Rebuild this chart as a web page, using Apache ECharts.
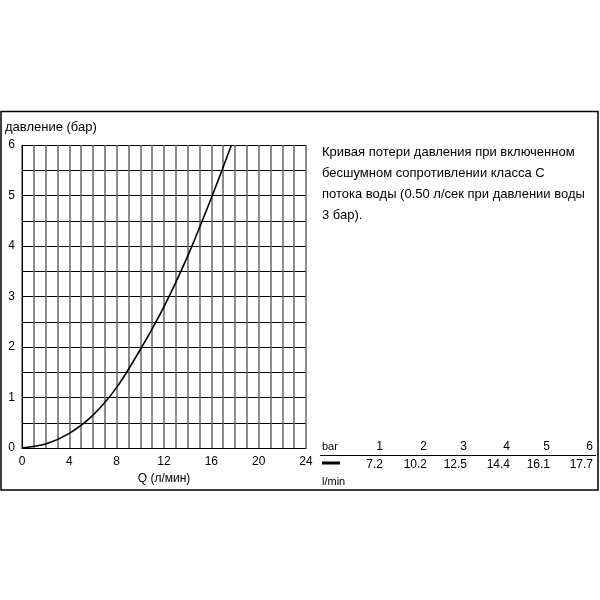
<!DOCTYPE html>
<html><head><meta charset="utf-8">
<script src="https://cdn.jsdelivr.net/npm/echarts@6/dist/echarts.min.js"></script>
<style>html,body{margin:0;padding:0;background:#fff}#c{width:600px;height:600px}</style>
</head><body><div id="c"></div>
<script>
// curve points: flow Q (l/min) vs pressure (bar)
const flowQ = [0, 2, 4, 6, 8, 10, 12, 14, 16, 17.7];
const pressure = [0, 0.08, 0.29, 0.65, 1.2, 1.95, 2.8, 3.8, 4.95, 6.0];
// table
const tableBar = ['1', '2', '3', '4', '5', '6'];
const tableFlow = ['7.2', '10.2', '12.5', '14.4', '16.1', '17.7'];
const descLines = [
  'Кривая потери давления при включенном',
  'бесшумном сопротивлении класса С',
  'потока воды (0.50 л/сек при давлении воды',
  '3 бар).'
];
const font = 'Liberation Sans, Arial, sans-serif';
const tableX = [383, 427, 467, 510, 550, 593];

const chart = echarts.init(document.getElementById('c'), null, {renderer: 'canvas'});
const graphic = [
  {type: 'rect', shape: {x: 1, y: 111.5, width: 597, height: 378.5}, style: {fill: 'none', stroke: '#000', lineWidth: 1.5}, z: 10},
  {type: 'text', left: 5, top: 121, style: {text: 'давление (бар)', font: '13px ' + font, fill: '#000'}},
  {type: 'line', shape: {x1: 320, y1: 455.5, x2: 596, y2: 455.5}, style: {stroke: '#000', lineWidth: 1}},
  {type: 'line', shape: {x1: 322, y1: 463, x2: 340, y2: 463}, style: {stroke: '#000', lineWidth: 3}},
  {type: 'text', left: 322, top: 441, style: {text: 'bar', font: '11px ' + font, fill: '#000'}},
  {type: 'text', left: 322, top: 476, style: {text: 'l/min', font: '11px ' + font, fill: '#000'}}
];
descLines.forEach((t, i) => graphic.push({type: 'text', left: 322, top: 146 + i * 21, style: {text: t, font: '13px ' + font, fill: '#000'}}));
tableBar.forEach((t, i) => graphic.push({type: 'text', x: tableX[i], y: 441, style: {text: t, font: '12px ' + font, fill: '#000', align: 'right'}}));
tableFlow.forEach((t, i) => graphic.push({type: 'text', x: tableX[i], y: 459, style: {text: t, font: '12px ' + font, fill: '#000', align: 'right'}}));

chart.setOption({
  animation: false,
  backgroundColor: '#fff',
  grid: {left: 22, right: 294, top: 145, bottom: 152},
  xAxis: {
    type: 'value', min: 0, max: 24, interval: 1,
    name: 'Q (л/мин)', nameLocation: 'middle', nameGap: 25,
    nameTextStyle: {color: '#000', fontSize: 12, fontFamily: font},
    axisLine: {show: true, lineStyle: {color: '#000', width: 1}},
    axisTick: {show: false},
    axisLabel: {color: '#000', fontSize: 12, fontFamily: font, margin: 8,
      formatter: v => (v % 4 === 0 ? String(v) : '')},
    splitLine: {show: true, lineStyle: {color: '#666', width: 1.5}}
  },
  yAxis: {
    type: 'value', min: 0, max: 6, interval: 0.5,
    axisLine: {show: true, lineStyle: {color: '#000', width: 1}},
    axisTick: {show: false},
    axisLabel: {color: '#000', fontSize: 12, fontFamily: font, margin: 7,
      formatter: v => (Number.isInteger(v) ? String(v) : '')},
    splitLine: {show: true, lineStyle: {color: '#000', width: 1}}
  },
  graphic: graphic,
  series: [{
    type: 'line', smooth: 0.3, symbol: 'none',
    data: flowQ.map((q, i) => [q, pressure[i]]),
    lineStyle: {color: '#000', width: 1.6},
    clip: true
  }]
});
</script></body></html>
